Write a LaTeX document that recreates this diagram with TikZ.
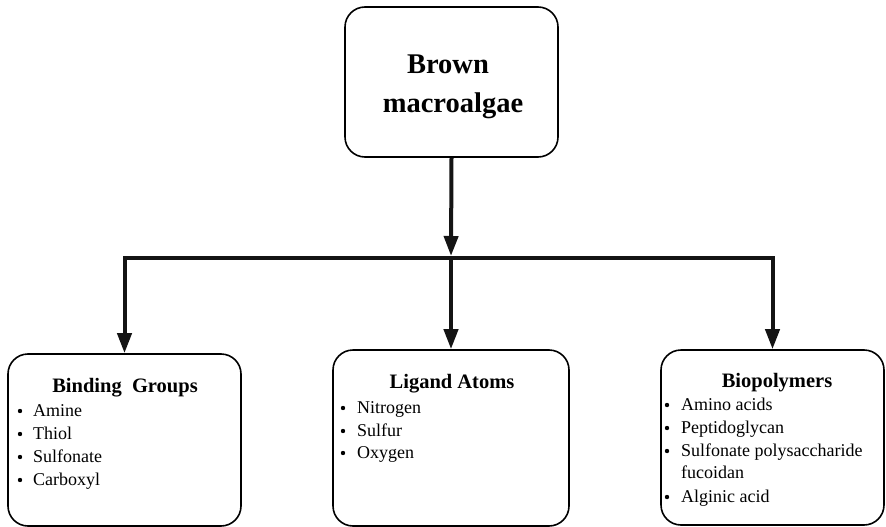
\documentclass[tikz,border=0pt]{standalone}
\usepackage{fontspec}
\setmainfont{Liberation Serif}
\usetikzlibrary{arrows.meta}
\tikzset{
  box/.style={draw, line width=1.6pt, rounded corners=20pt, inner sep=0pt},
  link/.style={line width=4pt, draw=black!92},
  tip/.style={-{Triangle[length=20pt,width=14pt]}},
  headline/.style={font=\fontsize{28.5}{38}\selectfont\bfseries, anchor=base, inner sep=0pt},
  title/.style={font=\fontsize{20.5}{24}\selectfont\bfseries, anchor=base, inner sep=0pt},
  entry/.style={font=\fontsize{18}{23}\selectfont, anchor=base west, inner sep=0pt},
  dot/.style={circle, fill, inner sep=0pt, minimum size=4.4pt},
}
\begin{document}
\begin{tikzpicture}[x=1pt, y=-1pt]
\useasboundingbox (0,0) rectangle (886,527);

% root box
\node[box, minimum width=213pt, minimum height=150pt] (top) at (451.5,82) {};
\node[headline] (t1) at (448,74) {Brown};
\node[headline] (t2) at (453,112) {macroalgae};

% category boxes
\node[box, minimum width=233pt, minimum height=172pt] (b1) at (124.5,440) {};
\node[box, minimum width=236pt, minimum height=176pt] (b2) at (451,438) {};
\node[box, minimum width=223pt, minimum height=175pt] (b3) at (772.5,437.5) {};

% connectors
\coordinate (j) at (451,258);
\coordinate (jt) at (451,256);
\draw[link, tip] (top.south) -- (jt);
\draw[link, tip] (j) -| (b1.north);
\draw[link, tip] (j) -| (b3.north);
\draw[link, tip] (j) -- (b2.north);

% binding groups
\node[title] (h1) at (125,392) {Binding\ \ Groups};
\node[dot] (d11) at (20,411) {};
\node[entry] (e11) at (33,416) {Amine};
\node[dot] (d12) at (20,434) {};
\node[entry] (e12) at (33,439) {Thiol};
\node[dot] (d13) at (20,457) {};
\node[entry] (e13) at (33,462) {Sulfonate};
\node[dot] (d14) at (20,480) {};
\node[entry] (e14) at (33,485) {Carboxyl};

% ligand atoms
\node[title] (h2) at (452,388) {Ligand Atoms};
\node[dot] (d21) at (343,408) {};
\node[entry] (e21) at (357,413) {Nitrogen};
\node[dot] (d22) at (343,431) {};
\node[entry] (e22) at (357,436) {Sulfur};
\node[dot] (d23) at (343,453) {};
\node[entry] (e23) at (357,458) {Oxygen};

% biopolymers
\node[title] (h3) at (777,387) {Biopolymers};
\node[dot] (d31) at (667,405) {};
\node[entry] (e31) at (681,410) {Amino acids};
\node[dot] (d32) at (667,428) {};
\node[entry] (e32) at (681,433) {Peptidoglycan};
\node[dot] (d33) at (667,451) {};
\node[entry] (e33) at (681,456) {Sulfonate polysaccharide};
\node[entry] (e34) at (681,478) {fucoidan};
\node[dot] (d35) at (667,497) {};
\node[entry] (e35) at (681,502) {Alginic acid};
\end{tikzpicture}
\end{document}
